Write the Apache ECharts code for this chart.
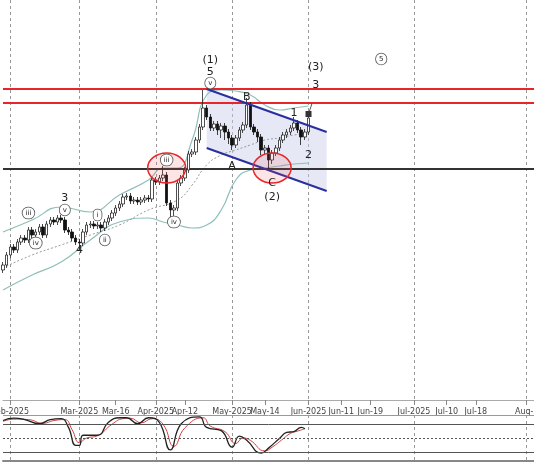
<!DOCTYPE html>
<html><head><meta charset="utf-8">
<script src="https://cdn.jsdelivr.net/npm/echarts@6/dist/echarts.min.js"></script>
<style>html,body{margin:0;padding:0;background:#fff}#c{width:534px;height:462px}</style>
</head><body><div id="c"></div>
<script>
// [open, close, low, high] per trading day, starting Jan 30 2025
const candles = [
[130,135,127,138],[135,145,132,148],[145,153,142,156],[153,150,147,156],[150,158,147,161],[158,162,155,165],[162,160,157,165],[160,170,157,173],[170,165,162,173],[165,168,162,171],
[168,173,165,176],[173,165,162,176],[165,176,162,179],[176,180,173,183],[180,178,175,183],[178,182,175,185],[182,180,177,185],[180,170,167,183],[170,168,165,173],[168,162,159,171],
[162,158,155,165],[158,157,150,161],[157,168,154,171],[168,175,165,178],[175,176,172,179],[176,174,171,179],[174,175,171,178],[175,172,168,178],[172,178,169,181],[178,182,175,185],
[182,187,179,190],[187,192,184,195],[192,196,189,199],[196,203,193,206],[203,204,200,207],[204,199,196,207],[199,200,196,203],[200,198,195,203],[198,200,195,203],[200,202,197,205],
[202,201,198,205],[201,220,198,223],[220,218,215,223],[218,222,215,225],[222,225,219,234],[225,197,194,228],[197,190,183,200],[190,192,178,195],[192,217,189,220],[217,222,214,225],
[222,230,219,233],[230,246,227,249],[246,248,243,251],[248,260,245,263],[260,273,257,276],[273,292,270,310],[292,283,280,295],[283,272,269,286],[272,276,269,279],[276,270,265,279],
[270,274,262,277],[274,268,260,277],[268,262,256,271],[262,255,250,265],[255,262,252,265],[262,270,259,273],[270,275,267,278],[275,295,272,302],[295,273,270,298],[273,268,265,276],
[268,263,258,271],[263,250,245,266],[250,252,246,255],[252,240,230,255],[240,247,236,250],[247,252,244,255],[252,260,249,263],[260,265,257,268],[265,268,262,271],[268,272,265,275],
[272,277,269,283],[277,270,267,280],[270,263,255,273],[263,268,260,271],[268,282,265,286]
];
const upperBand = [[0,168],[8,180],[16,193],[24,188],[32,205],[40,220],[44,232],[48,232],[52,260],[56,305],[60,310],[64,309],[68,305],[72,295],[76,290],[80,292],[84,294]];
const lowerBand = [[0,110],[8,125],[16,138],[24,160],[32,178],[40,182],[44,178],[48,175],[52,172],[56,175],[60,190],[64,220],[68,230],[72,232],[76,234],[80,236],[84,237]];
const midBand = [[0,132],[8,145],[16,155],[24,165],[32,175],[40,190],[48,200],[52,215],[56,235],[60,245],[64,250],[68,255],[72,260],[76,262],[80,265],[84,267]];
const oscMain = [[0,88],[3,93],[6,90],[10,81],[13,90],[16,92],[18,73],[20,34],[21,34],[22,56],[26,56],[29,84],[32,94],[34,94],[37,81],[40,94],[43,84],[46,24],[49,81],[54,96],[56,73],[60,66],[63,30],[65,54],[67,45],[71,17],[73,28],[76,49],[78,62],[80,64],[82,73],[83,70]];
const oscSignal = [[0,86],[3,91],[7,90],[11,82],[14,88],[17,90],[19,68],[21,40],[23,50],[26,55],[30,80],[33,92],[35,93],[38,83],[41,92],[44,80],[47,32],[50,72],[55,94],[57,76],[61,64],[64,38],[66,50],[68,45],[72,22],[74,30],[77,48],[79,60],[81,65],[83,70]];
const resistanceLevels = [311, 297];
const supportLevel = 231;
const channelUpper = [[56,311],[89,268]];
const channelLower = [[56,252],[89,209]];
const ellipses = [[45,232],[74,232]];
const waveLabels = [[57,340,'(1)',0],[57,328,'5',0],[57,317,'v',1],[67,303,'B',0],[63,234,'A',0],[80,287,'1',0],[84,245,'2',0],[74,217,'C',0],[74,203,'(2)',0],[86,333,'(3)',0],[86,315,'3',0],[104,341,'5',1],[17,202,'3',0],[17,190,'v',1],[7,187,'iii',1],[9,157,'iv',1],[21,150,'4',0],[26,185,'i',1],[28,160,'ii',1],[45,240,'iii',1],[47,178,'iv',1]];
const tickLabels = {2:'Feb-2025',21:'Mar-2025',31:'Mar-16',50:'Apr-12',42:'Apr-2025',63:'May-2025',72:'May-14',84:'Jun-2025',93:'Jun-11',101:'Jun-19',113:'Jul-2025',122:'Jul-10',130:'Jul-18',144:'Aug-2'};
const monthIdx = [2,21,42,63,84,113,144];

const cats = [];
(function(){
  const hol = ['2025-02-17','2025-04-18','2025-05-26'];
  let d = new Date(Date.UTC(2025,0,30));
  while (cats.length < 85) { const s=d.toISOString().slice(0,10); const w=d.getUTCDay(); if(w!==0&&w!==6&&hol.indexOf(s)<0) cats.push(s); d.setUTCDate(d.getUTCDate()+1); }
  while (cats.length < 147) { cats.push(d.toISOString().slice(0,10)); d.setUTCDate(d.getUTCDate()+1); }
})();

const chart = echarts.init(document.getElementById('c'));
const gridLine = {show:true, interval:(i)=>monthIdx.indexOf(i)>=0, lineStyle:{color:'#999',type:[3,3],width:1}};
chart.setOption({
  animation:false,
  grid:[{left:3,right:0,top:0,height:400,outerBoundsMode:'none',containLabel:false},{left:3,right:0,top:415,height:46,outerBoundsMode:'none',containLabel:false}],
  xAxis:[
    {type:'category',data:cats,gridIndex:0,boundaryGap:false,
     axisLine:{lineStyle:{color:'#aaa'}},axisTick:{show:true,interval:(i)=>tickLabels[i]!==undefined,lineStyle:{color:'#888'}},
     axisLabel:{interval:(i)=>tickLabels[i]!==undefined,formatter:(v,i)=>tickLabels[i]||'',fontSize:8,color:'#444',fontFamily:'DejaVu Sans',hideOverlap:false},
     splitLine:gridLine},
    {type:'category',data:cats,gridIndex:1,boundaryGap:false,axisLine:{lineStyle:{color:'#888',width:2}},axisTick:{show:false},axisLabel:{show:false},splitLine:gridLine}
  ],
  yAxis:[
    {type:'value',min:0,max:400,gridIndex:0,show:false,splitLine:{show:false}},
    {type:'value',min:0,max:100,gridIndex:1,show:false,splitLine:{show:false}}
  ],
  series:[
    {type:'custom',xAxisIndex:0,yAxisIndex:0,data:[0],z:1,renderItem:(p,api)=>{
      const pts=[channelUpper[0],channelUpper[1],channelLower[1],channelLower[0]].map(q=>api.coord(q));
      return {type:'polygon',shape:{points:pts},style:{fill:'rgba(200,205,235,0.45)'}};
    }},
    {type:'line',data:upperBand,symbol:'none',smooth:true,lineStyle:{color:'#8fbfba',width:1.2},z:2},
    {type:'line',data:lowerBand,symbol:'none',smooth:true,lineStyle:{color:'#8fbfba',width:1.2},z:2},
    {type:'line',data:midBand,symbol:'none',smooth:true,lineStyle:{color:'#999',width:1,type:[2,2]},z:2,
     markLine:{silent:true,symbol:'none',label:{show:false},data:[
       {yAxis:resistanceLevels[0],lineStyle:{color:'#e8262a',width:2,type:'solid'}},
       {yAxis:resistanceLevels[1],lineStyle:{color:'#e8262a',width:2,type:'solid'}},
       {yAxis:supportLevel,lineStyle:{color:'#333',width:2,type:'solid'}}]}},
    {type:'candlestick',data:candles.map(r=>[r[0],r[1],r[2],r[3]]),barWidth:3,z:5,
     itemStyle:{color:'#fff',color0:'#111',borderColor:'#222',borderColor0:'#111',borderWidth:0.8}},
    {type:'line',data:channelUpper,symbol:'none',lineStyle:{color:'#2a2fa0',width:2},z:6},
    {type:'line',data:channelLower,symbol:'none',lineStyle:{color:'#2a2fa0',width:2},z:6},
    {type:'line',data:[[84,286],[85,297]],symbol:['none','triangle'],symbolSize:6,itemStyle:{color:'#333'},lineStyle:{color:'#555',width:1},z:6},
    {type:'custom',data:ellipses,z:7,renderItem:(p,api)=>{
      const c=api.coord([api.value(0),api.value(1)]);
      return {type:'ellipse',shape:{cx:c[0],cy:c[1],rx:19,ry:15},style:{fill:'rgba(240,80,80,0.15)',stroke:'#e8262a',lineWidth:1.5}};
    }},
    {type:'custom',data:waveLabels,z:8,renderItem:(p,api)=>{
      const d=waveLabels[p.dataIndex]; const c=api.coord([d[0],d[1]]);
      const circ=d[3]===1;
      return {type:'text',x:c[0],y:c[1],style:{text:d[2],fontSize:circ?7:11,fontFamily:'DejaVu Sans',fill:'#222',align:'center',verticalAlign:'middle',
        backgroundColor:circ?'#fff':null,borderColor:circ?'#555':null,borderWidth:circ?0.8:0,borderRadius:circ?7:0,padding:circ?[2,3]:0}};
    }},
    {type:'line',xAxisIndex:1,yAxisIndex:1,data:oscSignal,symbol:'none',smooth:true,lineStyle:{color:'#d04040',width:1},z:3},
    {type:'line',xAxisIndex:1,yAxisIndex:1,data:oscMain,symbol:'none',smooth:true,lineStyle:{color:'#222',width:1.3},z:4,
     markLine:{silent:true,symbol:'none',label:{show:false},data:[
       {yAxis:80,lineStyle:{color:'#555',width:1,type:'solid'}},
       {yAxis:50,lineStyle:{color:'#555',width:1,type:[2,2]}},
       {yAxis:20,lineStyle:{color:'#555',width:1,type:'solid'}},
       {yAxis:100,lineStyle:{color:'#999',width:1,type:'solid'}}]}}
  ]
});
</script></body></html>
